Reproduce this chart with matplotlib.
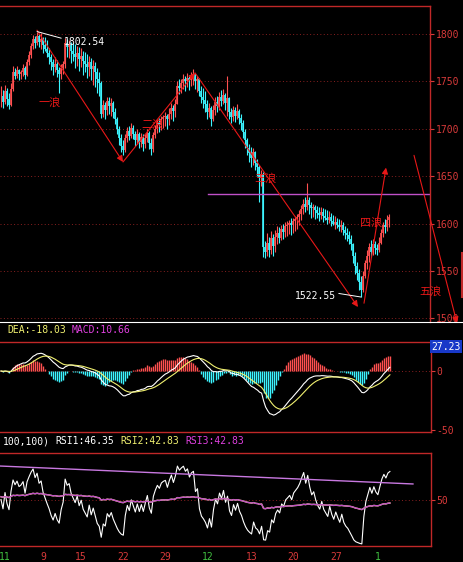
import numpy as np
import matplotlib.pyplot as plt
from matplotlib.lines import Line2D

plt.rcParams['font.family'] = ['DejaVu Sans Mono', 'Noto Sans CJK SC']

# 4-hour bars, Nov 2011 - early Jan 2012; open of each bar = previous close
close = [1735, 1728, 1740, 1731, 1725, 1742, 1760, 1756, 1762, 1758,
         1760, 1764, 1757, 1770, 1778, 1787, 1795, 1790, 1798, 1792,
         1795, 1788, 1784, 1780, 1776, 1770, 1765, 1768, 1762, 1758,
         1764, 1768, 1790, 1786, 1788, 1782, 1779, 1776, 1780, 1774,
         1777, 1771, 1768, 1765, 1770, 1763, 1766, 1760, 1752, 1748,
         1716, 1725, 1720, 1729, 1724, 1727, 1718, 1710, 1700, 1690,
         1682, 1678, 1690, 1698, 1692, 1701, 1695, 1688, 1694, 1686,
         1691, 1684, 1690, 1696, 1685, 1679, 1693, 1700, 1706, 1704,
         1710, 1712, 1713, 1710, 1716, 1722, 1719, 1726, 1745, 1743,
         1748, 1752, 1750, 1754, 1751, 1756, 1758, 1750, 1752, 1740,
         1733, 1730, 1726, 1718, 1722, 1710, 1720, 1728, 1724, 1733,
         1729, 1736, 1727, 1732, 1718, 1712, 1720, 1714, 1719, 1711,
         1706, 1697, 1688, 1680, 1674, 1669, 1675, 1664, 1660, 1648,
         1652, 1575, 1570, 1580, 1572, 1585, 1576, 1586, 1590, 1585,
         1594, 1591, 1597, 1599, 1601, 1598, 1603, 1605, 1607, 1610,
         1615, 1621, 1617, 1625, 1620, 1616, 1618, 1614, 1611, 1609,
         1612, 1608, 1606, 1604, 1607, 1603, 1600, 1602, 1599, 1596,
         1598, 1593, 1590, 1588, 1584, 1578, 1566, 1555, 1548, 1538,
         1530, 1545, 1558, 1566, 1575, 1570, 1578, 1574, 1572, 1580,
         1590, 1598, 1596, 1604, 1607]
high = [1745, 1741, 1746, 1743, 1738, 1748, 1766, 1764, 1766, 1763,
        1762, 1768, 1766, 1774, 1782, 1790, 1799, 1798, 1802.54, 1800,
        1801, 1797, 1797, 1794, 1785, 1779, 1774, 1776, 1773, 1765,
        1768, 1772, 1796, 1795, 1794, 1792, 1791, 1789, 1787, 1786,
        1785, 1782, 1781, 1779, 1777, 1775, 1773, 1770, 1764, 1760,
        1750, 1730, 1728, 1734, 1733, 1732, 1729, 1722, 1712, 1703,
        1694, 1688, 1694, 1702, 1703, 1706, 1704, 1698, 1700, 1697,
        1696, 1694, 1695, 1700, 1698, 1690, 1697, 1704, 1710, 1711,
        1714, 1715, 1718, 1716, 1722, 1727, 1725, 1731, 1750, 1752,
        1753, 1758, 1756, 1759, 1757, 1760, 1763, 1758, 1756, 1754,
        1745, 1743, 1740, 1730, 1727, 1724, 1725, 1733, 1735, 1739,
        1741, 1742, 1738, 1756, 1734, 1722, 1724, 1723, 1726, 1721,
        1716, 1709, 1700, 1690, 1684, 1681, 1680, 1677, 1668, 1662,
        1657, 1654, 1582, 1590, 1586, 1592, 1589, 1593, 1597, 1596,
        1599, 1600, 1602, 1603, 1604, 1606, 1606, 1608, 1610, 1614,
        1620, 1626, 1628, 1643, 1628, 1623, 1621, 1620, 1619, 1618,
        1617, 1616, 1615, 1614, 1613, 1611, 1609, 1608, 1606, 1605,
        1604, 1602, 1597, 1595, 1592, 1588, 1580, 1570, 1560, 1552,
        1545, 1550, 1562, 1572, 1580, 1583, 1584, 1582, 1578, 1586,
        1594, 1602, 1605, 1609, 1610]
low = [1723, 1722, 1726, 1724, 1721, 1724, 1740, 1752, 1754, 1751,
       1752, 1756, 1753, 1756, 1767, 1775, 1784, 1785, 1788, 1786,
       1784, 1780, 1782, 1776, 1768, 1762, 1757, 1760, 1755, 1738,
       1752, 1758, 1764, 1776, 1775, 1769, 1771, 1764, 1766, 1761,
       1765, 1757, 1760, 1754, 1756, 1751, 1746, 1744, 1738, 1735,
       1711, 1712, 1710, 1715, 1716, 1714, 1711, 1705, 1695, 1683,
       1676, 1672, 1675, 1686, 1688, 1690, 1689, 1682, 1684, 1680,
       1681, 1677, 1680, 1686, 1679, 1672, 1676, 1690, 1696, 1697,
       1699, 1701, 1703, 1700, 1704, 1710, 1708, 1712, 1726, 1737,
       1738, 1742, 1740, 1744, 1741, 1745, 1746, 1742, 1739, 1735,
       1727, 1722, 1718, 1710, 1712, 1703, 1708, 1715, 1718, 1720,
       1724, 1726, 1720, 1714, 1710, 1706, 1708, 1707, 1710, 1705,
       1699, 1690, 1680, 1672, 1665, 1660, 1662, 1657, 1650, 1623,
       1640, 1565, 1564, 1566, 1565, 1568, 1566, 1570, 1578, 1580,
       1583, 1584, 1586, 1587, 1589, 1588, 1590, 1592, 1594, 1598,
       1604, 1610, 1612, 1614, 1610, 1606, 1607, 1605, 1606, 1603,
       1605, 1602, 1604, 1600, 1601, 1597, 1598, 1594, 1595, 1592,
       1591, 1588, 1584, 1582, 1578, 1572, 1558, 1547, 1540, 1530,
       1522.55, 1528, 1543, 1552, 1560, 1565, 1567, 1568, 1567, 1570,
       1578, 1586, 1590, 1592, 1596]

day_pos = [2, 21, 40, 61, 82, 103, 125, 146, 167, 188]
day_txt = ['11', '9', '15', '22', '29', '12', '13', '20', '27', '1']
new_month = [True, False, False, False, False, True, False, False, False, True]

price_ticks = [1500, 1550, 1600, 1650, 1700, 1750, 1800]

# Elliott wave arrows: (bar0, price0, bar1, price1)
waves = [(18, 1804, 61, 1665), (61, 1665, 97, 1759), (97, 1759, 178.5, 1512),
         (181.5, 1516, 192.5, 1659), (206.5, 1672, 228, 1495)]
wave_names = ['一浪', '二浪', '三浪', '四浪', '五浪']
name_pos = [(24.5, 1728), (75.5, 1704), (132, 1648), (185, 1601), (215, 1528)]

level_price = 1631
level_start = 103.5
rsi_trend_x = [-0.5, 205.5]
rsi_trend_y = [86, 66.7]

UP = '#ff5050'
DOWN = '#3cf4ff'
AXRED = '#c02828'
TXTRED = '#d83a3a'
GRID = '#8a2020'
WAVE = '#e81818'
PURPLE = '#c050c8'
YELLOW = '#f0f070'

c = np.array(close, float)
hi = np.array(high, float)
lo = np.array(low, float)
n = len(c)
x = np.arange(n)
o = np.r_[c[0], c[:-1]]
cols = np.where(c >= o, UP, DOWN)


def ema(v, period):
    out = np.empty_like(v)
    out[0] = v[0]
    a = 2 / (period + 1)
    for k in range(1, len(v)):
        out[k] = a * v[k] + (1 - a) * out[k - 1]
    return out


def rsi(v, period, start=50):
    d = np.diff(v, prepend=v[0])
    base = np.mean(np.abs(np.diff(v)))
    up, ab = start / 100 * base, base
    out = []
    for step in d:
        up = (max(step, 0) + (period - 1) * up) / period
        ab = (abs(step) + (period - 1) * ab) / period
        out.append(100 * up / ab)
    return np.array(out)


dif = ema(c, 12) - ema(c, 26)
dea = ema(dif, 9)
macd = 2 * (dif - dea)
rsi1 = rsi(c, 6)
rsi3 = rsi(c, 100, 53)

W, H = 463, 562
fig = plt.figure(figsize=(W / 100, H / 100), dpi=100, facecolor='black')


def box(x0, y0, x1, y1):
    return [x0 / W, 1 - y1 / H, (x1 - x0) / W, (y1 - y0) / H]


ax1 = fig.add_axes(box(0, 6, 430, 322))
ax2 = fig.add_axes(box(0, 342, 431, 432))
ax3 = fig.add_axes(box(0, 453, 431, 546))

for ax in (ax1, ax2, ax3):
    ax.set_facecolor('black')
    ax.set_xlim(-0.5, 214.5)
    ax.spines['left'].set_visible(False)
    for s in ('top', 'right', 'bottom'):
        ax.spines[s].set_color(AXRED)
        ax.spines[s].set_linewidth(1.0)
    ax.yaxis.tick_right()
    ax.tick_params(axis='y', colors=TXTRED, length=3, width=0.8, pad=1,
                   labelsize=7)
    ax.tick_params(axis='x', length=0)
ax1.spines['bottom'].set_visible(False)
ax1.set_xticks([])
ax2.set_xticks([])

# candles: thin wick plus slightly wider body
ax1.set_ylim(1496.2, 1829.5)
for p in price_ticks:
    ax1.axhline(p, color=GRID, lw=0.7, ls=(0, (1, 2.5)), zorder=0)
ax1.vlines(x, lo, hi, colors=cols, lw=0.8)
ax1.vlines(x, np.minimum(o, c), np.maximum(o, c), colors=cols, lw=1.2)
ax1.set_yticks(price_ticks)

ax1.plot([level_start, 214.5], [level_price, level_price], color=PURPLE, lw=1)

for (x0, p0, x1, p1) in waves:
    ax1.annotate('', xy=(x1, p1), xytext=(x0, p0), annotation_clip=False,
                 arrowprops=dict(arrowstyle='-|>', color=WAVE, lw=0.8,
                                 mutation_scale=9, shrinkA=0, shrinkB=0))
for name, (px, py) in zip(wave_names, name_pos):
    ax1.text(px, py, name, color=WAVE, fontsize=8, ha='center', va='center',
             family='Noto Sans CJK SC', clip_on=False, zorder=5)

ax1.annotate(f'{hi.max():.2f}', xy=(int(hi.argmax()), hi.max()),
             xytext=(31.5, 1791.6), color='white', fontsize=7,
             ha='left', va='center', zorder=5,
             arrowprops=dict(arrowstyle='-', color='white', lw=0.7,
                             relpos=(0, 0.8), shrinkA=0, shrinkB=0))
ax1.annotate(f'{lo.min():.2f}', xy=(int(lo.argmin()), lo.min()),
             xytext=(167.5, 1523.6), color='white', fontsize=7,
             ha='right', va='center', zorder=5,
             arrowprops=dict(arrowstyle='-', color='white', lw=0.7,
                             relpos=(1, 0.8), shrinkA=0, shrinkB=0))

# MACD
ax2.set_ylim(-51.7, 24.6)
ax2.axhline(0, color=GRID, lw=0.7, ls=(0, (1, 2.5)), zorder=0)
ax2.vlines(x, 0, macd, colors=np.where(macd >= 0, UP, DOWN), lw=1.0)
ax2.plot(x, dif, color='white', lw=0.8)
ax2.plot(x, dea, color=YELLOW, lw=0.8)
ax2.set_yticks([0, -50], ['0', '-50'])

# RSI
ax3.set_ylim(0, 100)
ax3.axhline(50, color=GRID, lw=0.7, ls=(0, (1, 2.5)), zorder=0)
ax3.plot(x, rsi1, color='white', lw=0.8)
ax3.plot(x, rsi3, color=YELLOW, lw=1.0)
ax3.plot(x, rsi3, color=PURPLE, lw=1.0)
ax3.plot(rsi_trend_x, rsi_trend_y, color='#c878e0', lw=1.0)
ax3.set_yticks([50])
ax3.set_xticks(day_pos, day_txt)
ax3.tick_params(axis='x', pad=4, labelsize=7)
for lab, m in zip(ax3.get_xticklabels(), new_month):
    lab.set_color('#40c040' if m else TXTRED)

fig.add_artist(Line2D([0, 1], [1 - 322 / H] * 2, color='white', lw=0.8))
fig.add_artist(Line2D([462 / W] * 2, [1 - 253 / H, 1 - 297 / H],
                      color=AXRED, lw=1.5))

fig.text(431 / W, 1 - 346.5 / H, '27.23', color='white', fontsize=7,
         ha='left', va='center',
         bbox=dict(boxstyle='square,pad=0.15', fc='#1838c8', ec='none'))

fig.text(7 / W, 1 - 330 / H, 'DEA:-18.03', color=YELLOW, fontsize=7, va='center')
fig.text(72 / W, 1 - 330 / H, 'MACD:10.66', color='#e040e0', fontsize=7, va='center')
fig.text(3 / W, 1 - 441 / H, '100,100)', color='white', fontsize=7, va='center')
fig.text(55 / W, 1 - 441 / H, 'RSI1:46.35', color='white', fontsize=7, va='center')
fig.text(120 / W, 1 - 441 / H, 'RSI2:42.83', color=YELLOW, fontsize=7, va='center')
fig.text(185 / W, 1 - 441 / H, 'RSI3:42.83', color='#e040e0', fontsize=7, va='center')

fig.savefig('out.png', dpi=100, facecolor='black')
